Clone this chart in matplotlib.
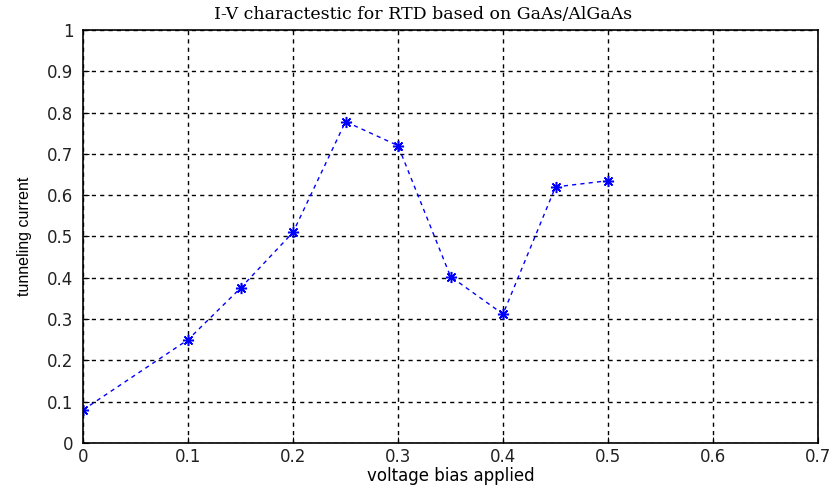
import numpy as np
import matplotlib
matplotlib.use('Agg')
import matplotlib.pyplot as plt

voltage = [0, 0.1, 0.15, 0.2, 0.25, 0.3, 0.35, 0.4, 0.45, 0.5]
current = [0.08, 0.25, 0.375, 0.51, 0.778, 0.72, 0.403, 0.312, 0.62, 0.635]

x_ticks = [0, 0.1, 0.2, 0.3, 0.4, 0.5, 0.6, 0.7]
y_ticks = [0, 0.1, 0.2, 0.3, 0.4, 0.5, 0.6, 0.7, 0.8, 0.9, 1]

fig = plt.figure(figsize=(8.31, 4.91), dpi=100)
ax = fig.add_axes([0.0999, 0.0978, 0.8845, 0.8412])

# matlab-style asterisk marker
ax.plot(voltage, current, color='blue', linestyle=(0, (3, 3)), linewidth=1,
        marker=(8, 2, 0), markersize=8, markeredgewidth=1.1)

ax.set_xlim(0, 0.7)
ax.set_ylim(0, 1)
ax.set_xticks(x_ticks)
ax.set_xticklabels([f'{v:g}' for v in x_ticks])
ax.set_yticks(y_ticks)
ax.set_yticklabels([f'{v:g}' for v in y_ticks])
ax.tick_params(labelsize=12, direction='in', length=4, labelcolor='#222222')
ax.tick_params(axis='y', pad=7)
for lbl in ax.get_xticklabels() + ax.get_yticklabels():
    lbl.set_family('DejaVu Sans')

ax.grid(True, color='black', linestyle=(0, (3, 3)), linewidth=1)
for s in ax.spines.values():
    s.set_linewidth(1.2)

ax.set_title('I-V charactestic for RTD based on GaAs/AlGaAs',
             fontsize=12.5, family='DejaVu Serif', x=0.463, pad=8)
ax.set_xlabel('voltage bias applied', fontsize=12, family='DejaVu Sans', labelpad=1)
ax.set_ylabel('tunneling current', fontsize=11.5, family='Liberation Sans', labelpad=11)

plt.savefig('out.png', dpi=100)
